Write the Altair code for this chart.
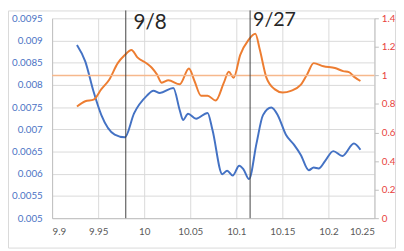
import altair as alt
import pandas as pd

# Blue series (left axis)
blue_x = [9.927, 9.936, 9.945, 9.9535, 9.968, 9.979, 9.989, 10.003, 10.010, 10.017,
          10.0316, 10.0386, 10.0422, 10.0476, 10.0564, 10.0688, 10.0741, 10.0848, 10.0901,
          10.0961, 10.1032, 10.1078, 10.1138, 10.122, 10.129, 10.138, 10.145, 10.1539,
          10.1628, 10.1699, 10.1787, 10.184, 10.1894, 10.1965, 10.2053, 10.2152, 10.2277, 10.2348]
blue_y = [0.00890, 0.00853, 0.00785, 0.00732, 0.00688, 0.00682, 0.00736, 0.00776, 0.00787, 0.00782,
          0.00793, 0.00743, 0.00721, 0.00735, 0.00724, 0.00737, 0.00699, 0.00599, 0.00607,
          0.00596, 0.00618, 0.00610, 0.00588, 0.00669, 0.00732, 0.00749, 0.00732, 0.00688,
          0.00665, 0.00643, 0.00608, 0.00614, 0.00612, 0.00629, 0.00651, 0.00640, 0.00668, 0.00654]

# Orange series (right axis)
orange_x = [9.927, 9.936, 9.945, 9.9535, 9.962, 9.9713, 9.9784, 9.9862, 9.9926, 10.0032,
            10.0085, 10.0138, 10.0191, 10.0263, 10.0386, 10.0486, 10.0546, 10.0617, 10.0688,
            10.0777, 10.0865, 10.0918, 10.0971, 10.1043, 10.1131, 10.1207, 10.1255, 10.1327,
            10.1415, 10.1503, 10.1593, 10.1699, 10.1769, 10.184, 10.1947, 10.2071, 10.216,
            10.2223, 10.2284, 10.2348]
orange_y = [0.782, 0.819, 0.830, 0.904, 0.970, 1.086, 1.139, 1.178, 1.126, 1.082,
            1.052, 1.007, 0.949, 0.966, 0.938, 1.048, 0.961, 0.858, 0.858,
            0.824, 0.949, 1.025, 0.984, 1.144, 1.247, 1.292, 1.181, 0.984,
            0.904, 0.881, 0.892, 0.933, 1.007, 1.086, 1.064, 1.052, 1.030,
            1.023, 0.988, 0.961]

ref_level = [1]
event_x = [9.98, 10.115]
event_labels = ["9/8", "9/27"]

x_ticks = [9.9, 9.95, 10, 10.05, 10.1, 10.15, 10.2, 10.25]
left_ticks = [0.005, 0.0055, 0.006, 0.0065, 0.007, 0.0075, 0.008, 0.0085, 0.009, 0.0095]
right_ticks = [0, 0.2, 0.4, 0.6, 0.8, 1, 1.2, 1.4]

W, H = 329, 204
FONT = "Lato"

df_blue = pd.DataFrame({"x": blue_x, "v": blue_y})
df_orange = pd.DataFrame({"x": orange_x, "v": orange_y})
df_ref = pd.DataFrame({"v": ref_level})
df_events = pd.DataFrame({"x": event_x, "label": event_labels})

xscale = alt.Scale(domain=[9.9, 10.25], nice=False, zero=False)
xaxis = alt.Axis(values=x_ticks, format="~g", title=None, grid=True, gridColor="#d9d9d9",
                 tickSize=0, labelPadding=9, labelColor="#595959", labelFontSize=10,
                 labelFont=FONT, domainColor="#bfbfbf", labelOverlap=False)

blue = alt.Chart(df_blue).mark_line(color="#4472C4", strokeWidth=2, interpolate="monotone").encode(
    x=alt.X("x:Q", scale=xscale, axis=xaxis),
    y=alt.Y("v:Q", scale=alt.Scale(domain=[0.005, 0.0095], nice=False, zero=False),
            axis=alt.Axis(orient="left", values=left_ticks, format="~g", title=None, grid=True,
                          gridColor="#d9d9d9", tickSize=0, labelPadding=10, labelColor="#4a72c4",
                          labelFontSize=10, labelFont=FONT, domainColor="#bfbfbf",
                          labelOverlap=False)),
)

rscale = alt.Scale(domain=[0, 1.4], nice=False, zero=True)
raxis = alt.Axis(orient="right", values=right_ticks, format="~g", title=None, grid=False,
                 tickSize=4, tickColor="#bfbfbf", labelPadding=3, labelColor="#e8413c",
                 labelFontSize=10, labelFont=FONT, domainColor="#bfbfbf",
                 labelOverlap=False)
orange = alt.Chart(df_orange).mark_line(color="#ED7D31", strokeWidth=2, interpolate="monotone").encode(
    x=alt.X("x:Q", scale=xscale, axis=xaxis),
    y=alt.Y("v:Q", scale=rscale, axis=raxis),
)
ref_line = alt.Chart(df_ref).mark_rule(color="#F6B88C", strokeWidth=1.5).encode(
    y=alt.Y("v:Q", scale=rscale, axis=raxis),
)
right_group = alt.layer(orange, ref_line)

vlines = alt.Chart(df_events).mark_rule(color="#404040", strokeWidth=1).encode(
    x=alt.X("x:Q", scale=xscale),
    y=alt.value(-8),
    y2=alt.value(H),
)
txt1 = alt.Chart(df_events.iloc[[0]]).mark_text(
    align="left", baseline="alphabetic", fontSize=21, font=FONT, color="#262626", dx=8
).encode(x=alt.X("x:Q", scale=xscale), y=alt.value(11), text="label:N")
txt2 = alt.Chart(df_events.iloc[[1]]).mark_text(
    align="left", baseline="alphabetic", fontSize=20, font=FONT, color="#262626", dx=3
).encode(x=alt.X("x:Q", scale=xscale), y=alt.value(8), text="label:N")

border = alt.Chart(pd.DataFrame({"k": [0]})).mark_rect(
    fill=None, stroke="#d9d9d9", strokeWidth=1
).encode(x=alt.value(-44.5), x2=alt.value(W + 21.5), y=alt.value(-7.5), y2=alt.value(H + 30.5))

chart = alt.layer(border, blue, right_group, vlines, txt1, txt2).resolve_scale(
    y="independent"
).properties(
    width=W, height=H,
    autosize=alt.AutoSizeParams(type="none"),
    padding={"left": 45, "top": 8, "right": 22, "bottom": 32},
).configure_view(stroke=None)

chart.save("out.html", embed_options={"renderer": "svg", "actions": False})
